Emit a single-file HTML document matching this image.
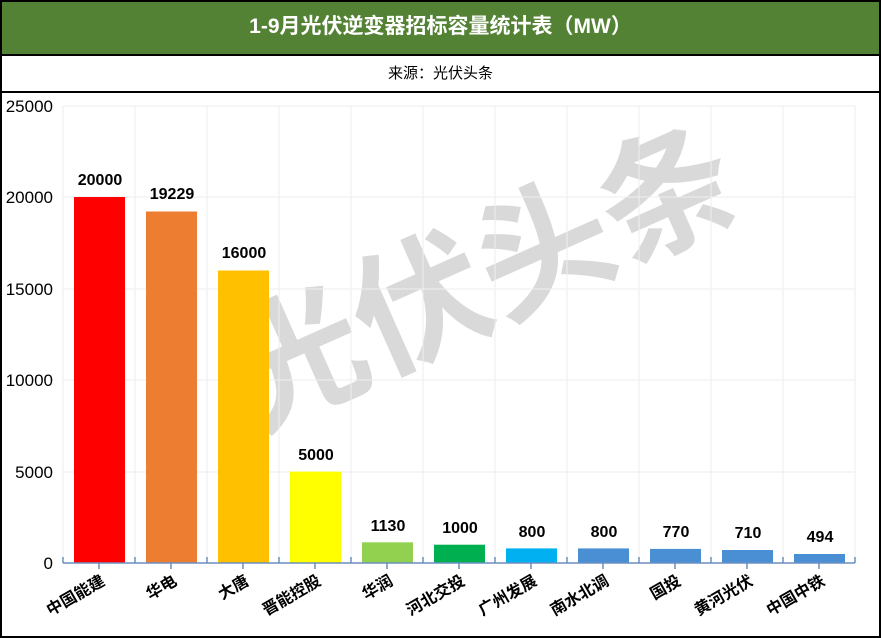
<!DOCTYPE html><html><head><meta charset="utf-8"><style>
body{margin:0;width:881px;height:638px;overflow:hidden;background:#fff;font-family:"Liberation Sans","Noto Sans CJK SC",sans-serif}
.frame{position:absolute;left:0;top:0;width:877px;height:634px;border:2px solid #000}
.title{position:absolute;left:0;top:0;width:881px;height:54px;background:#548235;border-bottom:2px solid #000;color:#fff;font-weight:bold;font-size:21px;text-align:center;line-height:54px}
.sub{position:absolute;left:0;top:56px;width:881px;height:35px;border-bottom:2px solid #000;text-align:center;line-height:35px;font-size:15px}
</style></head><body>
<div class="title">1-9月光伏逆变器招标容量统计表（MW）</div>
<div class="sub">来源：光伏头条</div>
<svg width="881" height="638" style="position:absolute;left:0;top:0" font-family="Liberation Sans, Noto Sans CJK SC, sans-serif">
<g fill="#d0d0d0" opacity="0.8" font-size="135" font-weight="bold"><text x="0" y="0" transform="translate(255 430) rotate(-24)">光伏头条</text></g>
<g stroke="#eee" stroke-width="1">
<line x1="63" y1="106" x2="855" y2="106"/><line x1="63" y1="197" x2="855" y2="197"/><line x1="63" y1="289" x2="855" y2="289"/><line x1="63" y1="380" x2="855" y2="380"/><line x1="63" y1="472" x2="855" y2="472"/>
<line x1="63" y1="106" x2="63" y2="563"/><line x1="135" y1="106" x2="135" y2="563"/><line x1="207" y1="106" x2="207" y2="563"/><line x1="279" y1="106" x2="279" y2="563"/><line x1="351" y1="106" x2="351" y2="563"/><line x1="423" y1="106" x2="423" y2="563"/><line x1="495" y1="106" x2="495" y2="563"/><line x1="567" y1="106" x2="567" y2="563"/><line x1="639" y1="106" x2="639" y2="563"/><line x1="711" y1="106" x2="711" y2="563"/><line x1="783" y1="106" x2="783" y2="563"/><line x1="855" y1="106" x2="855" y2="563"/>
</g>
<g font-size="17" text-anchor="end" fill="#000"><text x="53" y="112">25000</text><text x="53" y="203">20000</text><text x="53" y="295">15000</text><text x="53" y="386">10000</text><text x="53" y="478">5000</text><text x="53" y="569">0</text></g>
<g>
<rect x="74" y="197" width="51" height="366" fill="#ff0000"/>
<rect x="146" y="211.5" width="51" height="351.5" fill="#ed7d31"/>
<rect x="218" y="270.5" width="51" height="292.5" fill="#ffc000"/>
<rect x="290" y="471.6" width="51" height="91.4" fill="#ffff00"/>
<rect x="362" y="542.3" width="51" height="20.7" fill="#92d050"/>
<rect x="434" y="544.7" width="51" height="18.3" fill="#00b050"/>
<rect x="506" y="548.4" width="51" height="14.6" fill="#00b0f0"/>
<rect x="578" y="548.4" width="51" height="14.6" fill="#4a8fd4"/>
<rect x="650" y="548.9" width="51" height="14.1" fill="#4a8fd4"/>
<rect x="722" y="550" width="51" height="13" fill="#4a8fd4"/>
<rect x="794" y="554" width="51" height="9" fill="#4a8fd4"/>
</g>
<g font-size="16" font-weight="bold" text-anchor="middle">
<text x="100" y="185">20000</text><text x="172" y="199">19229</text><text x="244" y="258">16000</text><text x="316" y="460">5000</text><text x="388" y="531">1130</text><text x="460" y="533">1000</text><text x="532" y="537">800</text><text x="604" y="537">800</text><text x="676" y="537">770</text><text x="748" y="538">710</text><text x="820" y="542">494</text>
</g>
<g stroke="#6b8fbf" stroke-width="1.5"><line x1="63" y1="563" x2="855" y2="563"/>
<line x1="63" y1="557" x2="63" y2="563"/><line x1="135" y1="557" x2="135" y2="563"/><line x1="207" y1="557" x2="207" y2="563"/><line x1="279" y1="557" x2="279" y2="563"/><line x1="351" y1="557" x2="351" y2="563"/><line x1="423" y1="557" x2="423" y2="563"/><line x1="495" y1="557" x2="495" y2="563"/><line x1="567" y1="557" x2="567" y2="563"/><line x1="639" y1="557" x2="639" y2="563"/><line x1="711" y1="557" x2="711" y2="563"/><line x1="783" y1="557" x2="783" y2="563"/><line x1="855" y1="557" x2="855" y2="563"/>
<line x1="99" y1="563" x2="99" y2="569"/><line x1="171" y1="563" x2="171" y2="569"/><line x1="243" y1="563" x2="243" y2="569"/><line x1="315" y1="563" x2="315" y2="569"/><line x1="387" y1="563" x2="387" y2="569"/><line x1="459" y1="563" x2="459" y2="569"/><line x1="531" y1="563" x2="531" y2="569"/><line x1="603" y1="563" x2="603" y2="569"/><line x1="675" y1="563" x2="675" y2="569"/><line x1="747" y1="563" x2="747" y2="569"/><line x1="819" y1="563" x2="819" y2="569"/>
</g>
<g font-size="16" font-weight="bold" text-anchor="end">
<text transform="translate(106 584) rotate(-30)">中国能建</text>
<text transform="translate(178 584) rotate(-30)">华电</text>
<text transform="translate(250 584) rotate(-30)">大唐</text>
<text transform="translate(322 584) rotate(-30)">晋能控股</text>
<text transform="translate(394 584) rotate(-30)">华润</text>
<text transform="translate(466 584) rotate(-30)">河北交投</text>
<text transform="translate(538 584) rotate(-30)">广州发展</text>
<text transform="translate(610 584) rotate(-30)">南水北调</text>
<text transform="translate(682 584) rotate(-30)">国投</text>
<text transform="translate(754 584) rotate(-30)">黄河光伏</text>
<text transform="translate(826 584) rotate(-30)">中国中铁</text>
</g>
</svg>
<div class="frame"></div>
</body></html>
